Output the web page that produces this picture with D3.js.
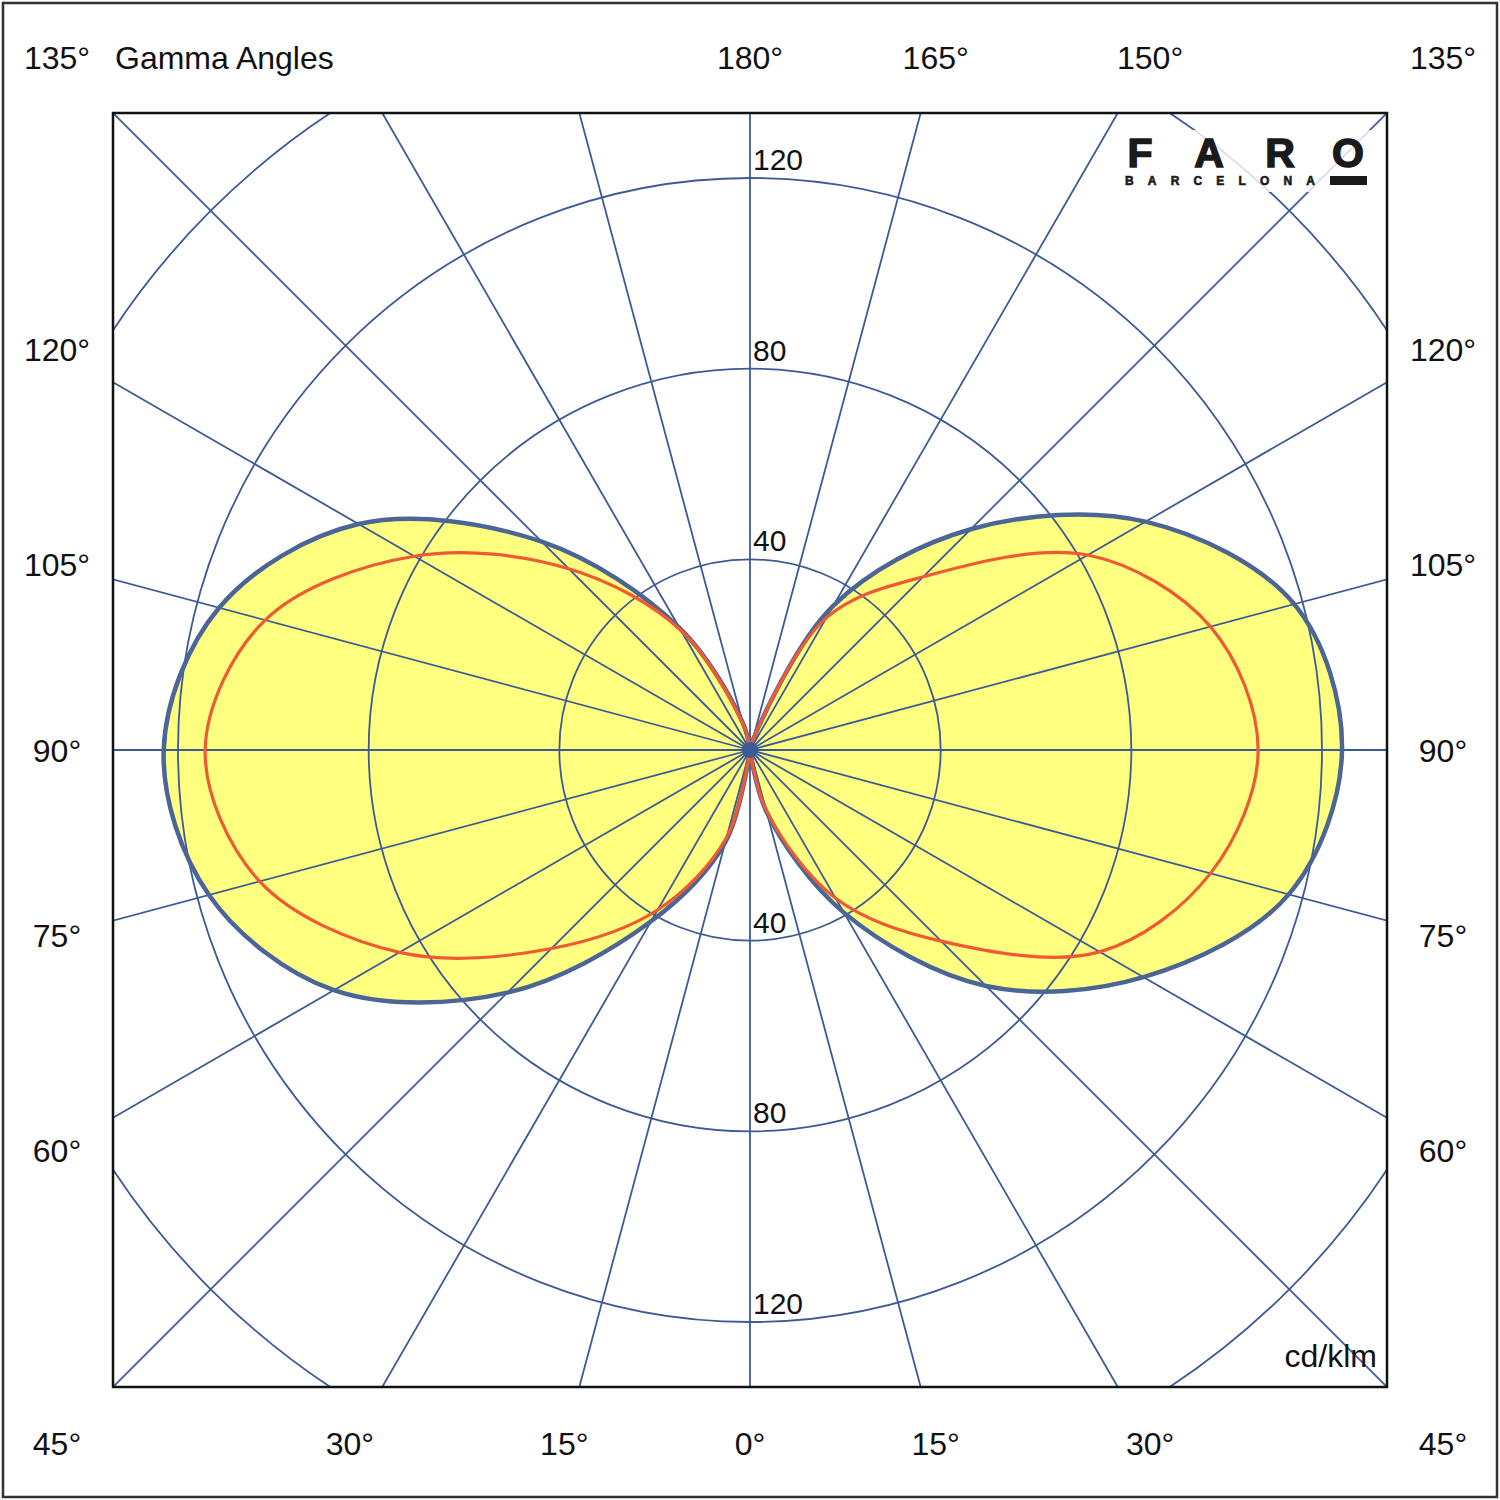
<!DOCTYPE html>
<html>
<head>
<meta charset="utf-8">
<script src="https://cdn.jsdelivr.net/npm/d3@7"></script>
<style>
  body { margin: 0; background: #fff; }
  svg text { font-family: "Liberation Sans", Arial, sans-serif; fill: #111; }
</style>
</head>
<body>
<div class="chart"></div>
<script>
// gamma angles (deg) and intensities in cd/klm
const gammas = [0, 15, 30, 45, 60, 75, 90, 105, 120, 135, 150, 165, 180];
const c0   = [0, 13.5, 39.4, 70, 95.3, 117, 124.2, 118.2, 95.8, 65.5, 35, 2, 0];     // right, yellow
const c180 = [0, 20, 41.5, 72, 100.8, 117.5, 123, 115.3, 94.8, 61.8, 29.5, 6, 0];    // left, yellow
const c90  = [0, 13, 35.9, 56.7, 84.7, 100, 106.6, 100, 81.8, 51.4, 32, 2, 0];       // right, red
const c270 = [0, 19, 38.7, 58.9, 84.9, 106.5, 114.3, 105.3, 81.3, 53.8, 29, 5.5, 0]; // left, red

const ringValues = [40, 80, 120, 160];
const ringLabels = [40, 80, 120];
const spokeAngles = d3.range(0, 360, 15);
const tickGammas = [0, 15, 30, 45, 60, 75, 90, 105, 120, 135, 150, 165, 180];
const hiddenLeft = [150, 165, 180, 0]; // title sits top-left, 0/180 drawn once

const width = 1500, height = 1500;
const cx = 750, cy = 750, half = 637;
const gridColor = "#3d5a95";

const r = d3.scaleLinear().domain([0, 120]).range([0, 572]);

const svg = d3.create("svg")
  .attr("width", width)
  .attr("height", height)
  .attr("viewBox", `0 0 ${width} ${height}`);

svg.append("rect")
  .attr("x", 3).attr("y", 3).attr("width", 1494).attr("height", 1494)
  .attr("fill", "#fff").attr("stroke", "#333").attr("stroke-width", 2.5);

svg.append("clipPath").attr("id", "plot")
  .append("rect")
  .attr("x", cx - half).attr("y", cy - half)
  .attr("width", half * 2).attr("height", half * 2);

// point for gamma (deg) on a side (+1 right, -1 left)
function pt(g, v, side) {
  const a = g * Math.PI / 180;
  return [cx + side * r(v) * Math.sin(a), cy + r(v) * Math.cos(a)];
}

const line = d3.line().curve(d3.curveCatmullRom.alpha(0.5));
const plot = svg.append("g").attr("clip-path", "url(#plot)");

const lobes = [
  { vals: c0, side: 1 },
  { vals: c180, side: -1 }
];
const redLobes = [
  { vals: c90, side: 1 },
  { vals: c270, side: -1 }
];

// yellow fill
plot.selectAll(".fill")
  .data(lobes)
  .join("path")
  .attr("class", "fill")
  .attr("d", d => line(gammas.map((g, i) => pt(g, d.vals[i], d.side))))
  .attr("fill", "#ffff80");

// grid: spokes and rings
plot.selectAll(".spoke")
  .data(spokeAngles)
  .join("line")
  .attr("class", "spoke")
  .attr("x1", cx).attr("y1", cy)
  .attr("x2", d => cx + 1000 * Math.sin(d * Math.PI / 180))
  .attr("y2", d => cy + 1000 * Math.cos(d * Math.PI / 180))
  .attr("stroke", gridColor).attr("stroke-width", 1.8);

plot.selectAll(".ring")
  .data(ringValues)
  .join("circle")
  .attr("class", "ring")
  .attr("cx", cx).attr("cy", cy)
  .attr("r", d => r(d))
  .attr("fill", "none")
  .attr("stroke", gridColor).attr("stroke-width", 1.8);

// outlines
plot.selectAll(".outline")
  .data(lobes)
  .join("path")
  .attr("class", "outline")
  .attr("d", d => line(gammas.map((g, i) => pt(g, d.vals[i], d.side))))
  .attr("fill", "none")
  .attr("stroke", "#4b6596").attr("stroke-width", 4.5);

plot.selectAll(".red")
  .data(redLobes)
  .join("path")
  .attr("class", "red")
  .attr("d", d => line(gammas.map((g, i) => pt(g, d.vals[i], d.side))))
  .attr("fill", "none")
  .attr("stroke", "#f05a32").attr("stroke-width", 3.2);

svg.append("circle")
  .attr("cx", cx).attr("cy", cy).attr("r", 8)
  .attr("fill", gridColor);

// plot border
svg.append("rect")
  .attr("x", cx - half).attr("y", cy - half)
  .attr("width", half * 2).attr("height", half * 2)
  .attr("fill", "none").attr("stroke", "#111").attr("stroke-width", 2.5);

// ring value labels, above and below centre
const ringLab = svg.append("g").attr("font-size", 30);
ringLabels.forEach(v => {
  ringLab.append("text").attr("x", cx + 3).attr("y", cy - r(v) - 8).text(v);
  ringLab.append("text").attr("x", cx + 3).attr("y", cy + r(v) - 8).text(v);
});

// gamma angle labels around the square
const outer = 693;
function labelPos(g, side) {
  const a = g * Math.PI / 180;
  const s = side * Math.sin(a), c = Math.cos(a);
  const k = outer / Math.max(Math.abs(s), Math.abs(c));
  return [cx + s * k, cy + c * k];
}
const angLab = svg.append("g").attr("font-size", 32).attr("text-anchor", "middle");
tickGammas.forEach(g => {
  const p = labelPos(g, 1);
  angLab.append("text").attr("x", p[0]).attr("y", p[1]).attr("dy", "0.36em").text(`${g}°`);
  if (!hiddenLeft.includes(g)) {
    const q = labelPos(g, -1);
    angLab.append("text").attr("x", q[0]).attr("y", q[1]).attr("dy", "0.36em").text(`${g}°`);
  }
});

svg.append("text")
  .attr("x", 115).attr("y", 69)
  .attr("font-size", 32)
  .text("Gamma Angles");

svg.append("text")
  .attr("x", 1377).attr("y", 1367)
  .attr("font-size", 32).attr("text-anchor", "end")
  .text("cd/klm");

// logo
const logo = svg.append("g");
logo.append("rect")
  .attr("x", 1118).attr("y", 130).attr("width", 256).attr("height", 62)
  .attr("fill", "#fff").attr("opacity", 0.8);
["F", "A", "R", "O"].forEach((l, i) => {
  logo.append("text")
    .attr("x", [1140, 1209, 1280, 1348][i]).attr("y", 167)
    .attr("text-anchor", "middle")
    .attr("font-family", "DejaVu Sans")
    .attr("font-weight", "bold")
    .attr("font-size", 41)
    .attr("stroke", "#1a1a1a").attr("stroke-width", 1.5)
    .style("fill", "#1a1a1a")
    .text(l);
});
logo.append("text")
  .attr("x", 1125).attr("y", 185)
  .attr("font-family", "DejaVu Sans")
  .attr("font-weight", "bold")
  .attr("font-size", 12)
  .attr("textLength", 190).attr("lengthAdjust", "spacing")
  .attr("stroke", "#1a1a1a").attr("stroke-width", 0.6)
  .style("fill", "#1a1a1a")
  .text("BARCELONA");
logo.append("rect")
  .attr("x", 1330).attr("y", 176).attr("width", 37).attr("height", 9)
  .attr("fill", "#1a1a1a");

document.querySelector(".chart").appendChild(svg.node());
</script>
</body>
</html>
